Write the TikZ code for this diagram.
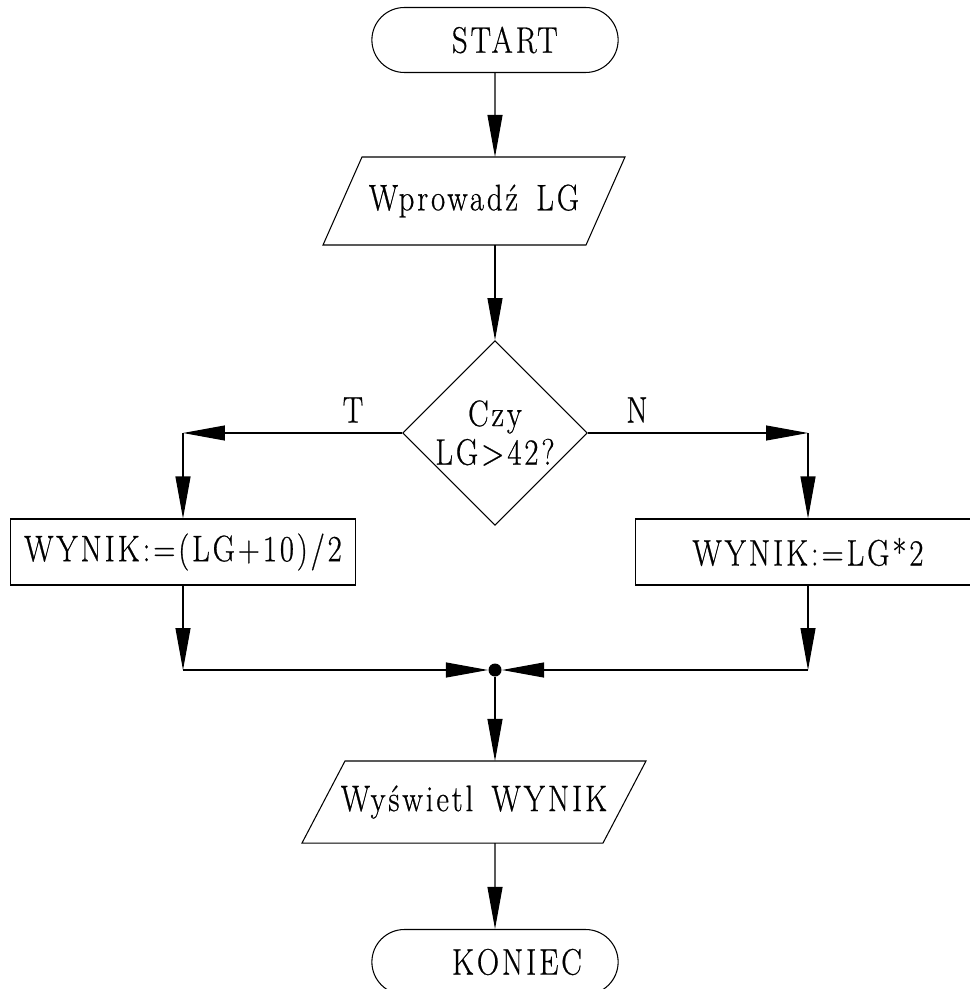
\documentclass[tikz,border=0pt]{standalone}
\usepackage{fontspec}
\setmainfont{Latin Modern Roman}[FakeStretch=0.83,LetterSpace=8,WordSpace=1.5,FakeBold=0.6]
\usetikzlibrary{arrows.meta}
\usetikzlibrary{shapes.geometric}
\usetikzlibrary{shapes.misc}

\begin{document}
\begin{tikzpicture}[
                x=0.02cm, y=-0.02cm,
                every node/.style={font=\fontsize{21}{22}\selectfont, line width=0.6pt},
                terminal/.style={draw, rounded rectangle, minimum width=5.16cm,
                        minimum height=1.3cm, text width=1.72cm, align=left},
                iobox/.style={rectangle, inner sep=0pt},
                process/.style={draw, rectangle, minimum width=6.9cm, minimum height=1.32cm},
                decision/.style={draw, diamond, minimum width=3.6cm, minimum height=3.6cm,
                        inner sep=0pt, align=center},
                arrow/.style={-{Triangle[length=0.84cm, width=0.3cm]}, line width=0.6pt} ]

            \useasboundingbox (0,0) rectangle (969,989);

            \node[terminal] (start) at (495,40) {START};
            \node[iobox, minimum width=5.24cm, minimum height=1.74cm] (input) at (474,201) {Wprowadź LG};
            \node[decision] (cond) at (495,433) {Czy\\LG>42?};
            \node[process] (left) at (183,552) {WYNIK:=(LG+10)/2};
            \node[process] (right) at (808,552) {WYNIK:=LG*2};
            \node[circle, fill=black, inner sep=0pt, minimum size=0.26cm] (merge) at (495,670) {};
            \node[iobox, minimum width=6.0cm, minimum height=1.62cm] (output) at (474,802) {Wyświetl WYNIK};
            \node[terminal] (stop) at (495,962) {KONIEC};

            \foreach \n/\s in {input/0.39cm, output/0.43cm} {
                    \draw[line width=0.6pt] ([xshift=\s]\n.north west) -- ([xshift=\s]\n.north east)
                    -- ([xshift=-\s]\n.south east) -- ([xshift=-\s]\n.south west) -- cycle;
                }

            \node (t) at (353,410) {T};
            \node (n) at (637,410) {N};

            \coordinate (tl) at (cond.west -| left);
            \coordinate (tr) at (cond.east -| right);
            \coordinate (bl) at (left |- merge);
            \coordinate (br) at (right |- merge);

            \draw[arrow] (start) -- (start |- input.north);
            \draw[arrow] (cond |- input.south) -- (cond);
            \draw[arrow] (cond.west) -- (tl);
            \draw[arrow] (tl) -- (left);
            \draw[arrow] (cond.east) -- (tr);
            \draw[arrow] (tr) -- (right);
            \draw[arrow] (left) -- (bl);
            \draw[arrow] (bl) -- (merge);
            \draw[arrow] (right) -- (br);
            \draw[arrow] (br) -- (merge);
            \draw[arrow] (merge) -- (merge |- output.north);
            \draw[arrow] (merge |- output.south) -- (stop);
        \end{tikzpicture}
\end{document}
